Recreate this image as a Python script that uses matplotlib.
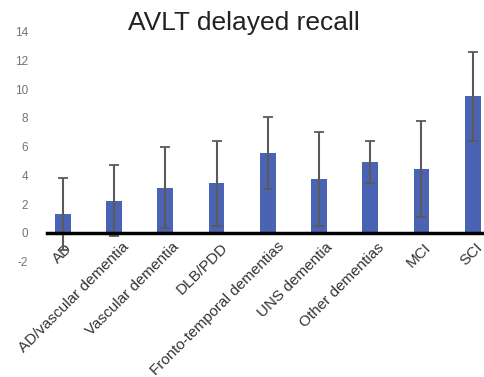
import matplotlib.pyplot as plt
import matplotlib.transforms as mtransforms

groups = ["AD", "AD/vascular dementia", "Vascular dementia", "DLB/PDD",
          "Fronto-temporal dementias", "UNS dementia", "Other dementias",
          "MCI", "SCI"]
means = [1.3, 2.25, 3.15, 3.45, 5.55, 3.75, 4.95, 4.45, 9.5]
sds = [2.5, 2.45, 2.8, 2.95, 2.5, 3.3, 1.45, 3.35, 3.1]
yticks = [-2, 0, 2, 4, 6, 8, 10, 12, 14]

plt.rcParams["font.family"] = ["Liberation Sans", "DejaVu Sans"]
plt.rcParams["axes.unicode_minus"] = False

fig = plt.figure(figsize=(4.85, 3.77), dpi=100)
# axes placed in pixel terms; the right side runs off the figure edge
W, H = 485, 377
left, right = 47.5, 485
bottom, top = 377 - 261.7, 377 - 31.7
ax = fig.add_axes([left / W, bottom / H, (right - left) / W, (top - bottom) / H])

x = list(range(len(groups)))
ax.bar(x, means, width=0.31, color="#4a63b3", zorder=2)
ax.errorbar(x, means, yerr=sds, fmt="none", ecolor="#5a5a5a",
            elinewidth=1.5, capsize=3.5, capthick=1.3, zorder=3)

ax.set_xlim(-0.3, 8.24)
ax.set_ylim(-2, 14)

# zero line doubles as the category axis
for s in ["left", "right", "top"]:
    ax.spines[s].set_visible(False)
ax.spines["bottom"].set_position(("data", 0))
ax.spines["bottom"].set_linewidth(2.5)
ax.spines["bottom"].set_color("black")
ax.spines["bottom"].set_zorder(4)

ax.set_yticks(yticks)
ax.tick_params(axis="y", length=0, pad=14, labelsize=8.5, labelcolor="#7a7068")
ax.set_xticks(x)
ax.set_xticklabels(groups, rotation=45, ha="right", rotation_mode="anchor",
                   fontsize=11, color="#333333")
ax.tick_params(axis="x", length=0, pad=6)

# longer labels sit a little further right along the axis
fig.canvas.draw()
renderer = fig.canvas.get_renderer()
for lbl in ax.get_xticklabels():
    w = lbl.get_window_extent(renderer).width
    shift = 0.06 * w + 1
    lbl.set_transform(lbl.get_transform() +
                      mtransforms.Affine2D().translate(shift, shift * 0.2))

fig.text(244 / W, 1 - 23 / H, "AVLT delayed recall", ha="center", va="center",
         fontsize=19, color="#222222")

fig.savefig("out.png", dpi=100)
